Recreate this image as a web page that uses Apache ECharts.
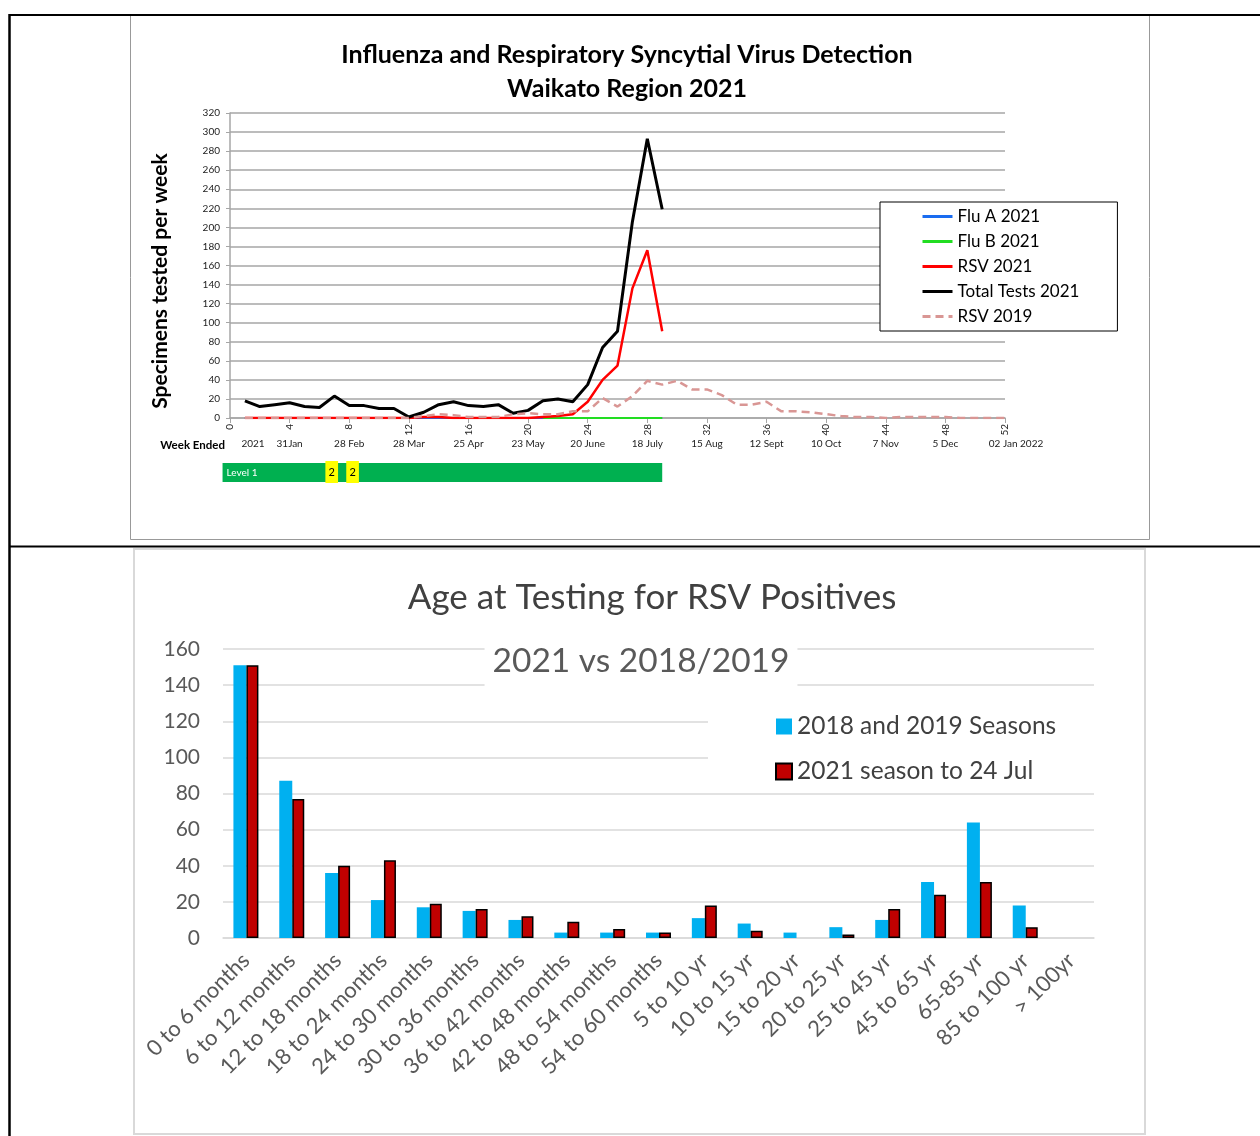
<!DOCTYPE html>
<html>
<head>
<meta charset="utf-8">
<title>Influenza and RSV Detection - Waikato 2021</title>
<script src="https://cdn.jsdelivr.net/npm/echarts@6/dist/echarts.min.js"></script>
<style>
  html, body { margin: 0; padding: 0; background: #fff; }
  #chart { width: 1260px; height: 1136px; }
</style>
</head>
<body>
<div id="chart"></div>
<script>
// ---- top chart: weekly specimens, Waikato 2021 (weeks 1..29) ----
const fluA2021 = [0, 0, 0, 0, 0, 0, 0, 0, 0, 0, 0, 0, 0, 0, 0, 0, 0, 0, 0, 0, 0, 0, 0, 0, 0, 0, 0, 0, 0]
const fluB2021 = [null, null, null, null, null, null, null, null, null, null, null, null, null, null, null, null, null, null, null, null, 0, 0, 0, 0, 0, 0, 0, 0, 0]
const rsv2021 = [0, 0, 0, 0, 0, 0, 0, 0, 0, 0, 0, 0, 1, 1, 0, 0, 0, 0, 0, 0, 1, 2, 4, 17, 40, 55, 136, 176, 91]
const totalTests2021 = [18, 12, 14, 16, 12, 11, 23, 13, 13, 10, 10, 1, 6, 14, 17, 13, 12, 14, 5, 8, 18, 20, 17, 35, 74, 91, 206, 293, 219]
// weeks 1..52
const rsv2019 = [0, 0, 0, 0, 0, 0, 0, 0, 0, 0, 0, 0, 2, 4, 3, 1, 1, 1, 4, 5, 4, 4, 7, 7, 21, 12, 23, 39, 35, 39, 30, 30, 24, 14, 14, 17, 7, 7, 6, 4, 2, 1, 1, 0, 1, 1, 1, 1, 0, 0, 0, 0]

// week-ended labels under ticks 0, 4, 8 ... 52
const weekEnded = ['2021', '31Jan', '28 Feb', '28 Mar', '25 Apr', '23 May', '20 June', '18 July', '15 Aug', '12 Sept', '10 Oct', '7 Nov', '5 Dec', '02 Jan 2022']

// alert level bar (week units)
const levelStart = [-0.5, 6.4, 7.8]
const levelEnd = [29, 7.25, 8.65]
const levelNum = [1, 2, 2]
const levelText = ['Level 1', '2', '2']

// ---- bottom chart: age at testing for RSV positives ----
const ageGroups = ['0 to 6 months', '6 to 12 months', '12 to 18 months', '18 to 24 months', '24 to 30 months',
  '30 to 36 months', '36 to 42 months', '42 to 48 months', '48 to 54 months', '54 to 60 months',
  '5 to 10 yr', '10 to 15 yr', '15 to 20 yr', '20 to 25 yr', '25 to 45 yr', '45 to 65 yr', '65-85 yr',
  '85 to 100 yr', '> 100yr']
const seasons1819 = [151, 87, 36, 21, 17, 15, 10, 3, 3, 3, 11, 8, 3, 6, 10, 31, 64, 18, 0]
const season2021 = [151, 77, 40, 43, 19, 16, 12, 9, 5, 3, 18, 4, 0, 2, 16, 24, 31, 6, 0]

const FONT = 'Lato, "Noto Sans", sans-serif'

function weekPairs(arr) {
  return arr.map((v, i) => [i + 1, v])
}

function lineSeries(name, data, color, width, dashed) {
  return {
    name: name,
    type: 'line',
    xAxisIndex: 0,
    yAxisIndex: 0,
    data: weekPairs(data),
    symbol: 'none',
    connectNulls: false,
    lineStyle: { color: color, width: width, type: dashed ? [8, 5] : 'solid' },
    itemStyle: { color: color },
    emphasis: { disabled: true }
  }
}

const chart = echarts.init(document.getElementById('chart'))

const option = {
  backgroundColor: '#fff',
  animation: false,
  textStyle: { fontFamily: FONT },
  title: [
    {
      text: 'Influenza and Respiratory Syncytial Virus Detection\nWaikato Region 2021',
      left: 622,
      top: 33,
      textAlign: 'center',
      textStyle: { fontFamily: FONT, fontSize: 25, fontWeight: 'bold', color: '#000', lineHeight: 34 }
    },
    {
      text: 'Age at Testing for RSV Positives',
      left: 647,
      top: 574,
      textAlign: 'center',
      textStyle: { fontFamily: FONT, fontSize: 35, fontWeight: 'normal', color: '#404040', lineHeight: 38 }
    },
    {
      text: '2021 vs 2018/2019',
      left: 633,
      top: 635,
      textAlign: 'center',
      padding: [8, 8, 8, 8],
      backgroundColor: '#fff',
      textStyle: { fontFamily: FONT, fontSize: 33.5, fontWeight: 'normal', color: '#595959', lineHeight: 36 }
    }
  ],
  legend: [
    {
      data: ['Flu A 2021', 'Flu B 2021', 'RSV 2021', 'Total Tests 2021', 'RSV 2019'],
      orient: 'vertical',
      left: 880,
      top: 202,
      padding: [6, 38, 6, 41],
      itemWidth: 30,
      itemHeight: 14,
      itemGap: 8,
      borderColor: '#000',
      borderWidth: 1,
      backgroundColor: '#fff',
      selectedMode: false,
      itemStyle: { opacity: 0 },
      lineStyle: { width: 3 },
      textStyle: { fontFamily: FONT, fontSize: 17, color: '#000', lineHeight: 17 }
    },
    {
      data: ['2018 and 2019 Seasons', '2021 season to 24 Jul'],
      orient: 'vertical',
      left: 708,
      top: 704,
      padding: [10, 45, 6, 67],
      icon: 'rect',
      itemWidth: 16,
      itemHeight: 16,
      itemGap: 20,
      backgroundColor: '#fff',
      selectedMode: false,
      textStyle: { fontFamily: FONT, fontSize: 24.5, color: '#404040', lineHeight: 24 }
    }
  ],
  grid: [
    { left: 230, top: 113, width: 775, height: 305 },
    { left: 230, top: 463, width: 775, height: 19 },
    { left: 223, top: 649, width: 871, height: 289 }
  ],
  xAxis: [
    {
      gridIndex: 0,
      type: 'value',
      min: 0,
      max: 52,
      interval: 4,
      axisLine: { show: true, lineStyle: { color: '#a6a6a6', width: 1.5 } },
      axisTick: { show: true, length: 5, lineStyle: { color: '#a6a6a6' } },
      splitLine: { show: false },
      axisLabel: { rotate: 90, fontSize: 10, color: '#222', margin: 6, fontFamily: FONT }
    },
    {
      gridIndex: 0,
      type: 'value',
      min: 0,
      max: 52,
      interval: 4,
      position: 'bottom',
      offset: 21,
      axisLine: { show: false },
      axisTick: { show: false },
      splitLine: { show: false },
      name: 'Week Ended',
      nameLocation: 'start',
      nameGap: 5,
      nameTextStyle: { fontFamily: FONT, fontSize: 11.5, fontWeight: 'bold', color: '#000', verticalAlign: 'top', align: 'right' },
      axisLabel: {
        margin: 0,
        fontSize: 10,
        color: '#222',
        fontFamily: FONT,
        formatter: function (v) {
          const i = Math.round(v / 4)
          if (i === 0) return '{first|' + weekEnded[i] + '}'
          if (i === weekEnded.length - 1) return '{last|' + weekEnded[i] + '}'
          return weekEnded[i]
        },
        rich: {
          first: { padding: [0, 0, 0, 46], fontSize: 10, color: '#222', fontFamily: FONT },
          last: { padding: [0, 0, 0, 22], fontSize: 10, color: '#222', fontFamily: FONT }
        }
      }
    },
    {
      gridIndex: 1,
      type: 'value',
      min: 0,
      max: 52,
      show: false
    },
    {
      gridIndex: 2,
      type: 'category',
      data: ageGroups,
      axisLine: { show: true, lineStyle: { color: '#d9d9d9', width: 1.5 } },
      axisTick: { show: false },
      axisLabel: { interval: 0, rotate: 45, fontSize: 22, color: '#595959', margin: 19, fontFamily: FONT }
    }
  ],
  yAxis: [
    {
      gridIndex: 0,
      type: 'value',
      min: 0,
      max: 320,
      interval: 20,
      name: 'Specimens tested per week',
      nameLocation: 'middle',
      nameGap: 59,
      nameTextStyle: { fontFamily: FONT, fontSize: 21, fontWeight: 'bold', color: '#000', padding: [0, 31, 0, 0] },
      axisLine: { show: true, lineStyle: { color: '#a6a6a6', width: 1.5 } },
      axisTick: { show: true, length: 4, lineStyle: { color: '#a6a6a6' } },
      splitLine: { show: true, lineStyle: { color: '#a6a6a6', width: 1.5 } },
      axisLabel: { fontSize: 10, color: '#222', margin: 10, fontFamily: FONT }
    },
    {
      gridIndex: 1,
      type: 'value',
      min: 0,
      max: 1,
      show: false
    },
    {
      gridIndex: 2,
      type: 'value',
      min: 0,
      max: 160,
      interval: 20,
      axisLine: { show: false },
      axisTick: { show: false },
      splitLine: { show: true, lineStyle: { color: '#d9d9d9', width: 1.5 } },
      axisLabel: { fontSize: 21, color: '#595959', margin: 23, fontFamily: FONT }
    }
  ],
  series: [
    lineSeries('Flu A 2021', fluA2021, '#1a6cf0', 2, false),
    lineSeries('Flu B 2021', fluB2021, '#22dd22', 2, false),
    lineSeries('RSV 2021', rsv2021, '#ff0000', 2.5, false),
    lineSeries('Total Tests 2021', totalTests2021, '#000000', 3, false),
    lineSeries('RSV 2019', rsv2019, '#d99694', 2.5, true),
    {
      name: 'Alert level',
      type: 'custom',
      xAxisIndex: 2,
      yAxisIndex: 1,
      clip: false,
      silent: true,
      data: levelStart.map((s, i) => [s, levelEnd[i], levelNum[i]]),
      renderItem: function (params, api) {
        const lvl = api.value(2)
        const p0 = api.coord([api.value(0), 1])
        const p1 = api.coord([api.value(1), 0])
        const ext = lvl === 1 ? 0 : 2
        return {
          type: 'rect',
          shape: { x: p0[0], y: p0[1] - ext, width: p1[0] - p0[0], height: p1[1] - p0[1] + ext * 1.5 },
          style: { fill: lvl === 1 ? '#00b050' : '#ffff00' },
          textContent: {
            style: {
              text: levelText[params.dataIndex],
              fill: lvl === 1 ? '#ffffff' : '#000000',
              fontSize: lvl === 1 ? 10 : 11,
              fontFamily: FONT
            }
          },
          textConfig: { position: lvl === 1 ? 'insideLeft' : 'inside', distance: 4 }
        }
      }
    },
    {
      name: '2018 and 2019 Seasons',
      type: 'bar',
      xAxisIndex: 3,
      yAxisIndex: 2,
      data: seasons1819,
      barWidth: 13,
      barGap: '0%',
      itemStyle: { color: '#00b0f0' },
      emphasis: { disabled: true }
    },
    {
      name: '2021 season to 24 Jul',
      type: 'bar',
      xAxisIndex: 3,
      yAxisIndex: 2,
      // empty groups get no outline
      data: season2021.map(v => (v === 0 ? { value: v, itemStyle: { borderWidth: 0 } } : v)),
      barWidth: 12,
      barGap: '0%',
      itemStyle: { color: '#c00000', borderColor: '#000', borderWidth: 1.5 },
      emphasis: { disabled: true }
    }
  ],
  graphic: [
    { type: 'rect', z: -1, shape: { x: 130.5, y: 15.5, width: 1019, height: 524 }, style: { fill: 'none', stroke: '#999', lineWidth: 1 } },
    { type: 'rect', z: -1, shape: { x: 134, y: 549, width: 1011, height: 585 }, style: { fill: 'none', stroke: '#d9d9d9', lineWidth: 2 } },
    { type: 'line', shape: { x1: 9, y1: 15, x2: 1260, y2: 15 }, style: { stroke: '#000', lineWidth: 2 } },
    { type: 'line', shape: { x1: 9, y1: 546.5, x2: 1260, y2: 546.5 }, style: { stroke: '#000', lineWidth: 2 } },
    { type: 'line', shape: { x1: 9.5, y1: 14, x2: 9.5, y2: 1136 }, style: { stroke: '#000', lineWidth: 2.5 } }
  ]
}

chart.setOption(option)
</script>
</body>
</html>
